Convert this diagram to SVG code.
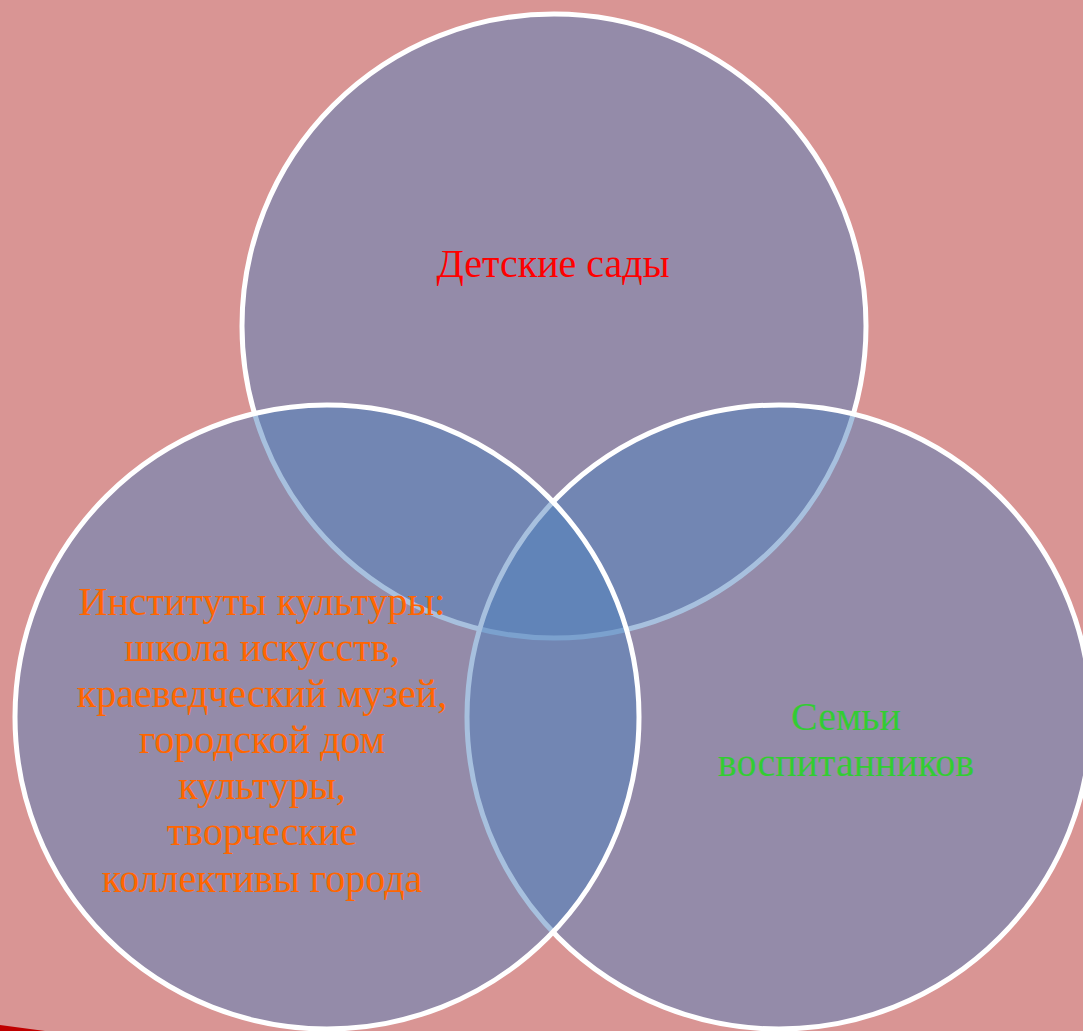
<svg xmlns="http://www.w3.org/2000/svg" width="1083" height="1031" viewBox="0 0 1083 1031">
<style>
.c{fill:#4F81BD;fill-opacity:0.5;stroke:#FFFFFF;stroke-width:5}
.t{font-family:"Liberation Serif","Times New Roman",serif;font-size:40px;text-anchor:middle}
</style>
<rect x="0" y="0" width="1083" height="1031" fill="#D99594"/>
<polygon points="0,1025 45,1031 0,1031" fill="#C00000"/>
<g id="node-kindergartens">
<circle class="c" cx="554" cy="326" r="312"/>
</g>
<g id="node-families">
<circle class="c" cx="779" cy="717" r="312"/>
</g>
<g id="node-culture">
<circle class="c" cx="327" cy="717" r="312"/>
</g>
<g id="connectors"></g>
<g id="labels">
<text class="t" x="553" y="277" fill="#FF0000">Детские сады</text>
<text class="t" x="262" y="615" fill="#FF6600">Институты культуры:</text>
<text class="t" x="262" y="661" fill="#FF6600">школа искусств,</text>
<text class="t" x="262" y="707" fill="#FF6600">краеведческий музей,</text>
<text class="t" x="262" y="753" fill="#FF6600">городской дом</text>
<text class="t" x="262" y="799" fill="#FF6600">культуры,</text>
<text class="t" x="262" y="845" fill="#FF6600">творческие</text>
<text class="t" x="262" y="892" fill="#FF6600">коллективы города</text>
<text class="t" x="846" y="730" fill="#33CC33">Семьи</text>
<text class="t" x="846" y="776" fill="#33CC33">воспитанников</text>
</g>
</svg>
